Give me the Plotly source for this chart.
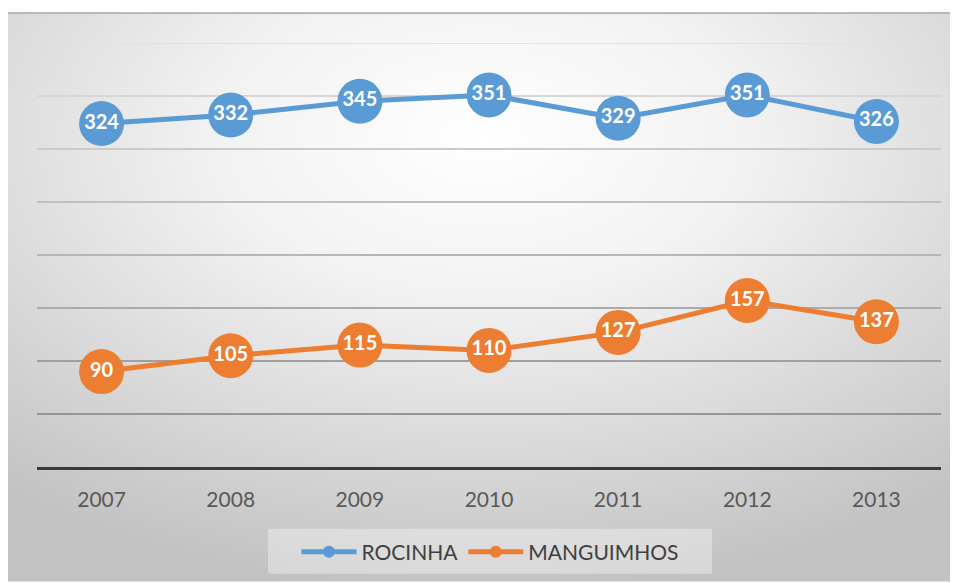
import base64
import plotly.graph_objects as go

years = ["2007", "2008", "2009", "2010", "2011", "2012", "2013"]
rocinha = [324, 332, 345, 351, 329, 351, 326]
manguinhos = [90, 105, 115, 110, 127, 157, 137]
series_names = ["ROCINHA", "MANGUIMHOS"]
grid_vals = [50, 100, 150, 200, 250, 300, 350, 400]

BLUE = "#5B9BD5"
ORANGE = "#ED7D31"

OFF = 8  # page body margin
W, H = 958 - OFF, 583 - OFF
PL, PR, PT, PB = 37, 941, 43, 468  # plot area in page pixels
ML, MR, MT, MB = PL - OFF, W - (PR - OFF), PT - OFF, H - (PB - OFF)
PW, PH = W - ML - MR, H - MT - MB

def px_x(px):
    return (px - OFF - ML) / PW

def px_y(py):
    return (H - MB - (py - OFF)) / PH

svg = '''<svg xmlns="http://www.w3.org/2000/svg" width="951" height="571" viewBox="0 0 951 571" preserveAspectRatio="none">
<defs><radialGradient id="g" cx="50%" cy="22%" r="80%" fx="50%" fy="22%">
<stop offset="0" stop-color="#ffffff"/><stop offset="0.35" stop-color="#f2f2f2"/>
<stop offset="1" stop-color="#c2c2c2"/></radialGradient></defs>
<rect x="0" y="0" width="951" height="571" fill="url(#g)"/>
<rect x="0" y="0" width="951" height="2" fill="#b8b8b8"/>
<rect x="0" y="0" width="1" height="571" fill="#c8c8c8"/>
</svg>'''
src = "data:image/svg+xml;base64," + base64.b64encode(svg.encode()).decode()

fig = go.Figure()
for name, vals, col in [(series_names[0], rocinha, BLUE), (series_names[1], manguinhos, ORANGE)]:
    fig.add_trace(go.Scatter(
        x=years, y=vals, name=name, mode="lines+markers+text",
        text=[str(v) for v in vals], textposition="middle center",
        textfont=dict(family="Lato", size=20, color="white", weight="bold"),
        line=dict(color=col, width=5),
        marker=dict(color=col, size=45),
        cliponaxis=False, hoverinfo="skip",
    ))

shapes = []
n = len(grid_vals)
for i, g in enumerate(grid_vals):
    t = i / (n - 1)
    c = int(150 + t * (225 - 150))
    shapes.append(dict(type="line", xref="paper", yref="y", x0=0, x1=1, y0=g, y1=g,
                       line=dict(color=f"rgb({c},{c},{c})", width=2), layer="below"))
shapes.append(dict(type="rect", xref="paper", yref="paper",
                   x0=px_x(268), x1=px_x(712), y0=px_y(575), y1=px_y(530),
                   fillcolor="rgba(255,255,255,0.35)", line=dict(width=0), layer="below"))

fig.update_layout(
    width=W, height=H,
    margin=dict(l=ML, r=MR, t=MT, b=MB),
    paper_bgcolor="white", plot_bgcolor="rgba(0,0,0,0)",
    images=[dict(source=src, xref="paper", yref="paper",
                 x=px_x(7), y=px_y(12), sizex=(958 - 7) / PW, sizey=(583 - 12) / PH,
                 xanchor="left", yanchor="top", sizing="stretch", layer="below")],
    shapes=shapes,
    showlegend=True,
    legend=dict(orientation="h", x=px_x(490), xanchor="center", y=px_y(552), yanchor="middle",
                font=dict(family="Lato", size=21, color="#404040"),
                bgcolor="rgba(0,0,0,0)", itemsizing="constant", itemwidth=55),
    xaxis=dict(type="category", range=[-0.5, 6.5], showgrid=False,
               showline=True, linecolor="#3a3a3a", linewidth=3,
               ticks="outside", ticklen=12, tickcolor="rgba(0,0,0,0)",
               tickfont=dict(family="Lato", size=21, color="#595959")),
    yaxis=dict(range=[0, 400], showgrid=False, showticklabels=False, zeroline=False,
               fixedrange=True),
)

fig.write_html("out.html")
